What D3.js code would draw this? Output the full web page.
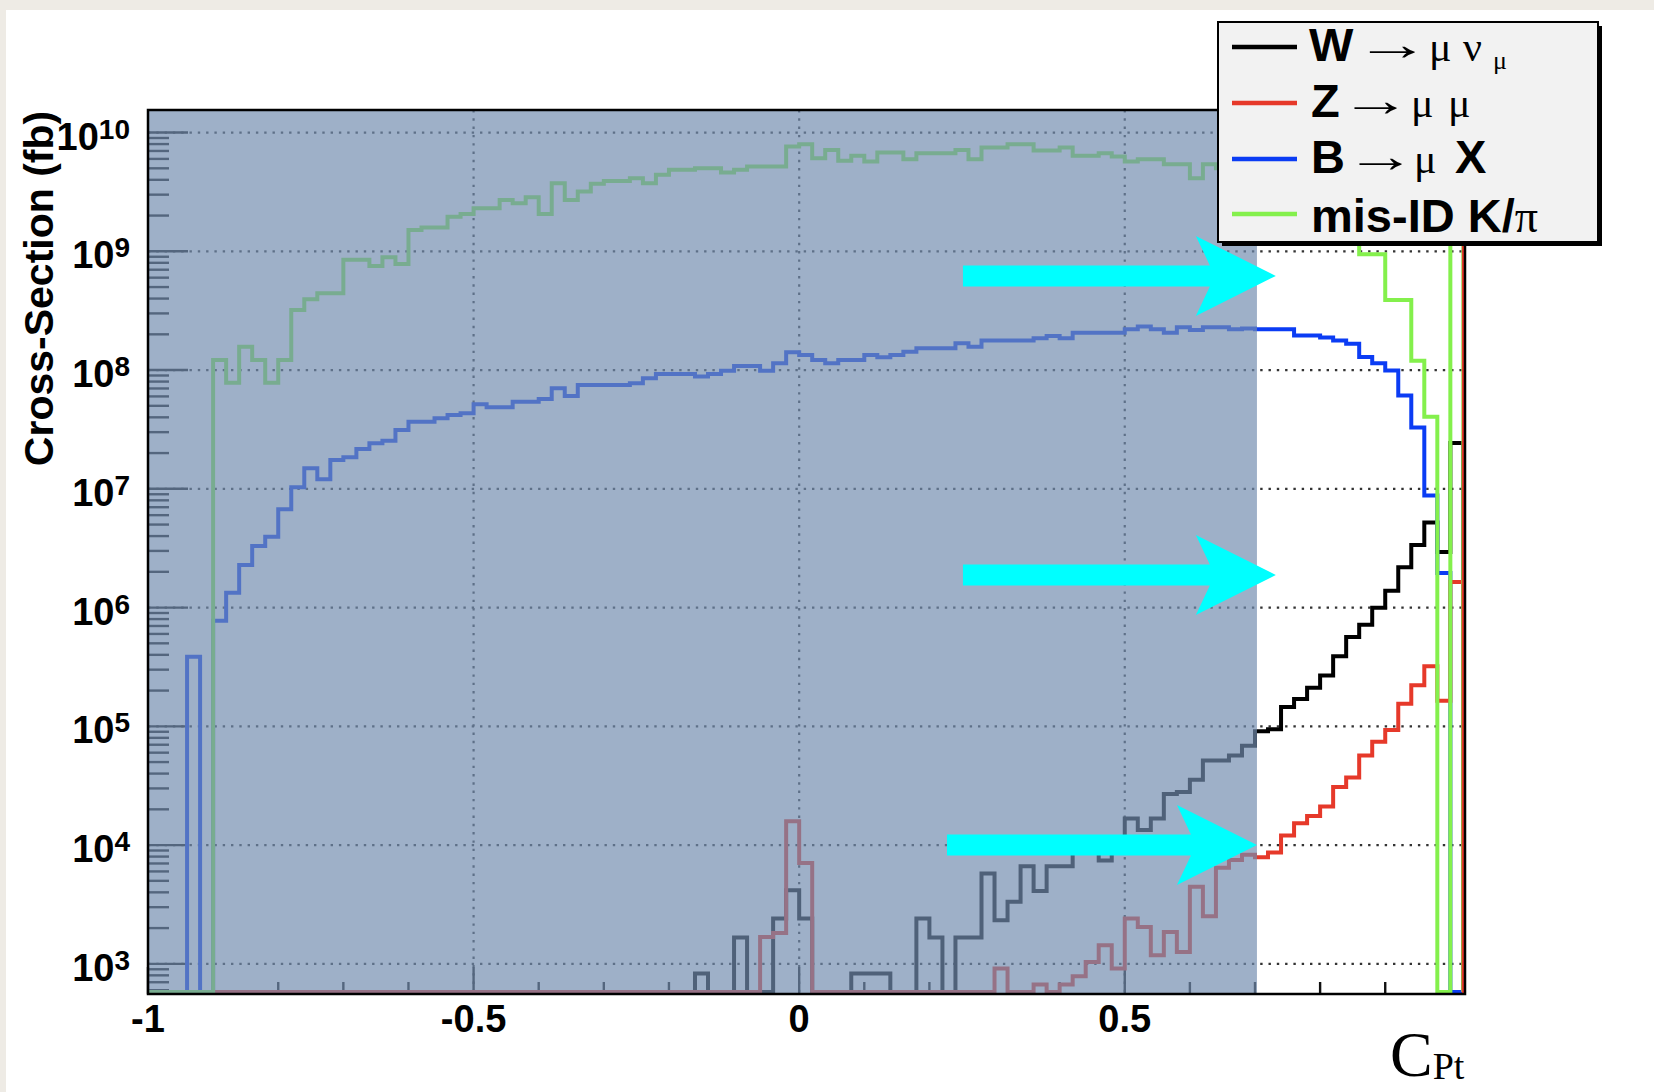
<!DOCTYPE html>
<html>
<head>
<meta charset="utf-8">
<script src="https://d3js.org/d3.v7.min.js"></script>
<style>
  html, body { margin: 0; padding: 0; background: #fff; }
  svg { display: block; }
</style>
</head>
<body>
<script>
"use strict";

// histogram binning: 101 bins of width 0.02 starting at -1
var binLo = -1, binW = 0.02;

// log10 of the cross-section (fb) per bin, null = empty bin
var wMuNu = [
  null, null, null, null, null, null, null, null, null, null,
  null, null, null, null, null, null, null, null, null, null,
  null, null, null, null, null, null, null, null, null, null,
  null, null, null, null, null, null, null, null, null, null,
  null, null, 2.918, null, null, 3.222, null, null, 3.382, 3.620,
  3.382, null, null, null, 2.918, 2.918, 2.918, null, null, 3.382,
  3.222, null, 3.222, 3.222, 3.761, 3.368, 3.522, 3.822, 3.614, 3.822,
  3.822, 4.0, 4.0, 3.87, 4.0, 4.224, 4.126, 4.224, 4.43, 4.448,
  4.55, 4.713, 4.713, 4.754, 4.836, 4.958, 4.976, 5.162, 5.231, 5.325,
  5.427, 5.590, 5.753, 5.855, 5.998, 6.141, 6.340, 6.527, 6.716, 6.468,
  7.386
];

var zMuMu = [
  null, null, null, null, null, null, null, null, null, null,
  null, null, null, null, null, null, null, null, null, null,
  null, null, null, null, null, null, null, null, null, null,
  null, null, null, null, null, null, null, null, null, null,
  null, null, null, null, null, null, null, 3.227, 3.26, 4.201,
  3.85, null, null, null, null, null, null, null, null, null,
  null, null, null, null, null, 2.960, null, null, 2.825, null,
  2.825, 2.896, 3.016, 3.157, 2.960, 3.382, 3.311, 3.073, 3.269, 3.100,
  3.650, 3.400, 3.81, 3.875, 3.918, 3.897, 3.938, 4.081, 4.183, 4.244,
  4.325, 4.489, 4.570, 4.754, 4.870, 4.97, 5.19, 5.345, 5.505, 5.215,
  6.215
];

var bMuX = [
  null, null, null, 5.585, null, 5.889, 6.125, 6.358, 6.518, 6.596,
  6.827, 7.013, 7.173, 7.080, 7.243, 7.265, 7.335, 7.383, 7.405, 7.495,
  7.565, 7.565, 7.594, 7.622, 7.636, 7.712, 7.687, 7.687, 7.734, 7.734,
  7.757, 7.847, 7.782, 7.874, 7.874, 7.874, 7.874, 7.888, 7.931, 7.967,
  7.967, 7.967, 7.945, 7.967, 7.995, 8.034, 8.034, 7.995, 8.057, 8.150,
  8.127, 8.085, 8.057, 8.085, 8.085, 8.127, 8.108, 8.127, 8.155, 8.184,
  8.184, 8.184, 8.226, 8.197, 8.248, 8.248, 8.248, 8.248, 8.268, 8.287,
  8.268, 8.315, 8.315, 8.315, 8.315, 8.344, 8.366, 8.344, 8.315, 8.361,
  8.338, 8.361, 8.361, 8.344, 8.350, 8.344, 8.344, 8.344, 8.291, 8.291,
  8.275, 8.250, 8.222, 8.111, 8.058, 7.997, 7.785, 7.516, 6.944, 6.291,
  null
];

var misId = [
  null, null, null, null, null, 8.085, 7.894, 8.197, 8.085, 7.894,
  8.085, 8.506, 8.596, 8.647, 8.647, 8.928, 8.928, 8.877, 8.950, 8.894,
  9.180, 9.200, 9.200, 9.292, 9.315, 9.363, 9.363, 9.433, 9.405, 9.456,
  9.315, 9.574, 9.433, 9.503, 9.568, 9.593, 9.593, 9.616, 9.574, 9.644,
  9.686, 9.686, 9.700, 9.700, 9.663, 9.686, 9.714, 9.714, 9.714, 9.882,
  9.902, 9.784, 9.854, 9.762, 9.804, 9.756, 9.832, 9.832, 9.776, 9.826,
  9.826, 9.826, 9.854, 9.776, 9.874, 9.874, 9.902, 9.902, 9.848, 9.848,
  9.874, 9.804, 9.804, 9.826, 9.798, 9.756, 9.776, 9.776, 9.734, 9.734,
  9.616, 9.734, 9.70, 9.66, 9.62, 9.55, 9.50, 9.45, 9.40, 9.35,
  9.30, 9.22, 9.15, 8.976, 8.976, 8.589, 8.589, 8.079, 7.607, null,
  10.8
];

var xTickLabels = ["-1", "-0.5", "0", "0.5"];
var xTickValues = [-1, -0.5, 0, 0.5];
var yDecades = [3, 4, 5, 6, 7, 8, 9, 10];

// cyan annotation arrows: tail x, tip x, log10 height
var arrows = [
  { from: 0.2515, to: 0.732, at: 8.793 },
  { from: 0.2515, to: 0.732, at: 6.274 },
  { from: 0.227, to: 0.703, at: 4.0 }
];
var shadeTo = 0.703;   // grey-blue cover spans [-1, shadeTo]

var width = 1654, height = 1092;
var frame = { left: 148, right: 1465, top: 110, bottom: 994 };

var x = d3.scaleLinear().domain([-1, 1.0225]).range([frame.left, frame.right]);
var y = d3.scaleLog().domain([Math.pow(10, 2.746), Math.pow(10, 10.19)]).range([frame.bottom, frame.top]);

var svg = d3.select("body").append("svg")
    .attr("width", width)
    .attr("height", height);

// page and slide border
svg.append("rect").attr("width", width).attr("height", height).attr("fill", "#fff");
svg.append("rect").attr("width", width).attr("height", 10).attr("fill", "#eeebe5");
svg.append("rect").attr("width", 6).attr("height", height).attr("fill", "#eeebe5");

svg.append("defs").append("clipPath").attr("id", "plotclip")
  .append("rect")
    .attr("x", frame.left).attr("y", frame.top)
    .attr("width", frame.right - frame.left)
    .attr("height", frame.bottom - frame.top);

var plot = svg.append("g");

// dotted grid
plot.selectAll("line.hgrid")
  .data(yDecades)
  .enter().append("line")
    .attr("x1", frame.left).attr("x2", frame.right)
    .attr("y1", function (d) { return y(Math.pow(10, d)); })
    .attr("y2", function (d) { return y(Math.pow(10, d)); })
    .attr("stroke", "#333").attr("stroke-width", 2.2)
    .attr("stroke-dasharray", "2.4,5.9");

plot.selectAll("line.vgrid")
  .data([-0.5, 0, 0.5])
  .enter().append("line")
    .attr("x1", function (d) { return x(d); })
    .attr("x2", function (d) { return x(d); })
    .attr("y1", frame.top).attr("y2", frame.bottom)
    .attr("stroke", "#333").attr("stroke-width", 2.2)
    .attr("stroke-dasharray", "2.4,5.9");

// y ticks, log style
var yTicks = [];
for (var n = 2; n <= 10; n++) {
  for (var k = 1; k <= 9; k++) {
    var v = k * Math.pow(10, n);
    if (v >= y.domain()[0] && v <= y.domain()[1]) yTicks.push({ v: v, major: k === 1 });
  }
}
plot.selectAll("line.ytick")
  .data(yTicks)
  .enter().append("line")
    .attr("x1", frame.left)
    .attr("x2", function (d) { return frame.left + (d.major ? 40 : 21); })
    .attr("y1", function (d) { return y(d.v); })
    .attr("y2", function (d) { return y(d.v); })
    .attr("stroke", "#111").attr("stroke-width", 2.4);

var xTicks = d3.range(-10, 11).map(function (i) { return { v: i / 10, major: i % 5 === 0 }; });
plot.selectAll("line.xtick")
  .data(xTicks)
  .enter().append("line")
    .attr("x1", function (d) { return x(d.v); })
    .attr("x2", function (d) { return x(d.v); })
    .attr("y1", frame.bottom)
    .attr("y2", function (d) { return frame.bottom - (d.major ? 27 : 12); })
    .attr("stroke", "#111").attr("stroke-width", 2.4);

// histograms
var nBins = wMuNu.length;
var edges = d3.range(nBins + 1).map(function (i) { return binLo + i * binW; });
var base = frame.bottom - 2;

function histPath(logs) {
  var pts = [[edges[0], null]];
  logs.forEach(function (v, i) {
    pts.push([edges[i], v], [edges[i + 1], v]);
  });
  pts.push([edges[logs.length], null]);
  return d3.line()
    .x(function (d) { return x(d[0]); })
    .y(function (d) { return d[1] == null ? base : y(Math.pow(10, d[1])); })(pts);
}

var series = [
  { data: wMuNu, color: "#000000" },
  { data: bMuX, color: "#0b3cf4" },
  { data: zMuMu, color: "#e6392a" },
  { data: misId, color: "#84f04c" }
];

var hists = plot.append("g").attr("clip-path", "url(#plotclip)");
hists.selectAll("path")
  .data(series)
  .enter().append("path")
    .attr("d", function (d) { return histPath(d.data); })
    .attr("fill", "none")
    .attr("stroke", function (d) { return d.color; })
    .attr("stroke-width", 4)
    .attr("stroke-linejoin", "miter");

// Z overflow edge at the right of the last bin
hists.append("line")
  .attr("x1", x(edges[nBins])).attr("x2", x(edges[nBins]))
  .attr("y1", frame.top).attr("y2", frame.bottom)
  .attr("stroke", "#e6392a").attr("stroke-width", 3);

// grey-blue cover
svg.append("rect")
  .attr("x", x(-1)).attr("y", frame.top)
  .attr("width", x(shadeTo) - x(-1))
  .attr("height", frame.bottom - frame.top)
  .attr("fill", "rgb(115,140,176)")
  .attr("fill-opacity", 0.69);

// frame
svg.append("rect")
  .attr("x", frame.left).attr("y", frame.top)
  .attr("width", frame.right - frame.left)
  .attr("height", frame.bottom - frame.top)
  .attr("fill", "none").attr("stroke", "#000").attr("stroke-width", 2.5);

// arrows
function arrowPoints(a) {
  var x0 = x(a.from), x1 = x(a.to), cy = y(Math.pow(10, a.at));
  var hl = 80, hw = 40, sw = 10.5, notch = 14;
  return [[x0, cy - sw], [x1 - hl + notch, cy - sw], [x1 - hl, cy - hw], [x1, cy],
          [x1 - hl, cy + hw], [x1 - hl + notch, cy + sw], [x0, cy + sw]];
}
svg.selectAll("polygon.arrow")
  .data(arrows)
  .enter().append("polygon")
    .attr("points", function (d) { return arrowPoints(d).map(function (p) { return p.join(","); }).join(" "); })
    .attr("fill", "#00ffff");

// axis labels
var sans = "'Liberation Sans', Arial, Helvetica, sans-serif";
var serif = "'Liberation Serif', 'DejaVu Serif', 'Times New Roman', serif";

var yl = svg.selectAll("text.ylab")
  .data(yDecades)
  .enter().append("text")
    .attr("x", 130)
    .attr("y", function (d) { return y(Math.pow(10, d)) + 17; })
    .attr("text-anchor", "end")
    .style("font-family", sans).style("font-weight", "bold").style("font-size", "38px");
yl.append("tspan").text("10");
yl.append("tspan").attr("dy", -11).style("font-size", "28px").text(function (d) { return d; });

svg.selectAll("text.xlab")
  .data(xTickValues)
  .enter().append("text")
    .attr("x", function (d) { return x(d); })
    .attr("y", 1032)
    .attr("text-anchor", "middle")
    .style("font-family", sans).style("font-weight", "bold").style("font-size", "38px")
    .text(function (d, i) { return xTickLabels[i]; });

svg.append("text")
  .attr("transform", "translate(53," + ((frame.top + 467) / 2) + ") rotate(-90)")
  .attr("text-anchor", "middle")
  .style("font-family", sans).style("font-weight", "bold").style("font-size", "41px")
  .text("Cross-Section (fb)");

var cpt = svg.append("text")
  .attr("x", 1390).attr("y", 1076)
  .style("font-family", serif).style("font-size", "64px");
cpt.append("tspan").text("C");
cpt.append("tspan").attr("dy", 3).style("font-size", "38px").text("Pt");

// legend
var leg = svg.append("g");
leg.append("rect").attr("x", 1222).attr("y", 26).attr("width", 380).attr("height", 220).attr("fill", "#000");
leg.append("rect").attr("x", 1218).attr("y", 22).attr("width", 380).attr("height", 220)
  .attr("fill", "#f2f2f2").attr("stroke", "#000").attr("stroke-width", 2);

var legRows = [
  { color: "#000000", ly: 47, base: 61 },
  { color: "#e6392a", ly: 103, base: 117 },
  { color: "#0b3cf4", ly: 159, base: 173 },
  { color: "#84f04c", ly: 214, base: 232 }
];
leg.selectAll("line.key")
  .data(legRows)
  .enter().append("line")
    .attr("x1", 1232).attr("x2", 1297)
    .attr("y1", function (d) { return d.ly; })
    .attr("y2", function (d) { return d.ly; })
    .attr("stroke", function (d) { return d.color; })
    .attr("stroke-width", 4.5);

function legText(xp, yp, str, isSerif, size) {
  return leg.append("text")
    .attr("x", xp).attr("y", yp)
    .style("font-family", isSerif ? serif : sans)
    .style("font-weight", isSerif ? "normal" : "bold")
    .style("font-size", (size || (isSerif ? 42 : 47)) + "px")
    .text(str);
}
// the reaction arrow is drawn wide, as in the Symbol font (centred on cx)
function legArrow(cx, yp, sx) {
  return leg.append("text")
    .attr("transform", "translate(" + cx + "," + yp + ") scale(" + sx + ",1)")
    .attr("text-anchor", "middle")
    .style("font-family", serif)
    .style("font-size", "46px")
    .text("\u2192");
}

legText(1309, legRows[0].base, "W", false);
legArrow(1392, legRows[0].base - 1, 1.65);
legText(1429, legRows[0].base, "\u03bc", true);
legText(1463, legRows[0].base, "\u03bd", true);
legText(1493, legRows[0].base + 8, "\u03bc", true, 26);

legText(1311, legRows[1].base, "Z", false);
legArrow(1376, legRows[1].base - 1, 1.55);
legText(1411, legRows[1].base, "\u03bc", true);
legText(1448, legRows[1].base, "\u03bc", true);

legText(1311, legRows[2].base, "B", false);
legArrow(1381, legRows[2].base - 1, 1.55);
legText(1414, legRows[2].base, "\u03bc", true);
legText(1455, legRows[2].base, "X", false);

var mis = legText(1311, legRows[3].base, "mis-ID K/", false);
mis.append("tspan").style("font-family", serif).style("font-weight", "normal").style("font-size", "46px").text("\u03c0");
</script>
</body>
</html>
